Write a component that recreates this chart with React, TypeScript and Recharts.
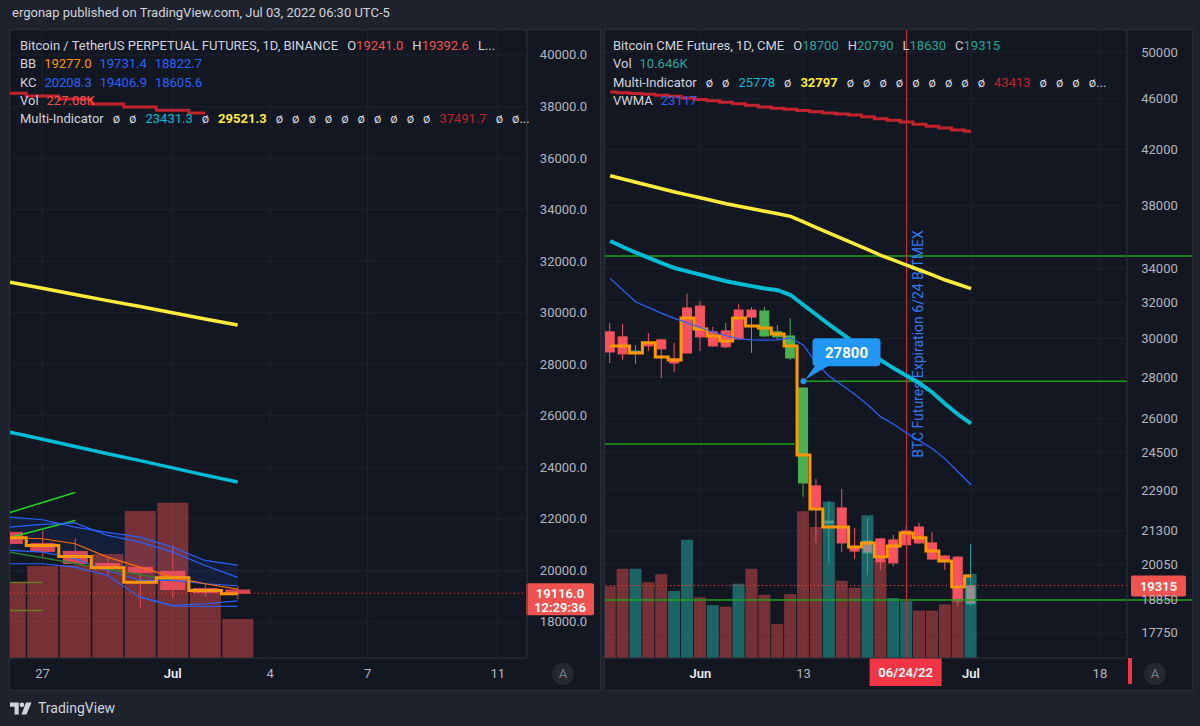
import React from 'react';
import {
  ComposedChart, Bar, Line, Area, Cell, XAxis, YAxis, CartesianGrid, ReferenceLine, ReferenceDot,
} from 'recharts';

const FONT = "Roboto, 'Liberation Sans', sans-serif";
const PAGE_BG = '#1e222d';
const CHART_BG = '#131722';
const GRID = '#1e222d';
const BORDER = '#2a2e39';
const TEXT = '#d1d4dc';
const AXIS_TEXT = '#b2b5be';
const RED = '#ef5350';
const TEAL = '#26a69a';
const CYAN = '#00bcd4';
const YELLOW = '#ffeb3b';
const BLUE = '#2962ff';
const DARK_RED = '#c2232c';
const ORANGE = '#ff9800';
const GREEN_LINE = '#1ea01e';

// ---------- left: BTCUSDT perpetual (Binance), x = days since Jun 26 ----------
const bnDays = [0, 1, 2, 3, 4, 5, 6, 7];
const bnOpen = [21475, 21050, 20740, 20270, 20120, 19960, 19300, 19241.0];
const bnHigh = [21520, 21550, 21240, 20470, 20130, 20970, 19500, 19392.6];
const bnLow = [21000, 20500, 20200, 19850, 18560, 18950, 18990, 18870];
const bnClose = [21047, 20740, 20270, 20080, 19920, 19260, 19150, 19116.0];
const bnVolK = [442, 535, 541, 605, 855, 902, 390, 227.08];
const bnRedMa = [38520, 38410, 38290, 38100, 37980, 37860, 37750, null];
const bnYellowMa = [31180, 30950, 30710, 30470, 30240, 30000, 29760, 29521.3];
const bnCyanMa = [25360, 25090, 24810, 24530, 24260, 23980, 23700, 23431.3];
const bnKcUpper = [22068, 21967, 21680, 21474, 21292, 20904, 20388, 20208.3];
const bnKcMid = [20776, 20710, 20454, 20000, 19612, 19612, 19484, 19406.9];
const bnKcLower = [null, null, null, null, 18965, 18620, 18610, 18605.6];
const bnBbUpper = [21680, 21785, 21843, 21358, 21098, 20710, 20194, 19731.4];
const bnBbBasis = [21269, 21230, 21036, 20517, 20129, 19741, 19484, 19277.0];
const bnBbLower = [20260, 20260, 20128, 19806, 18965, 18642, 18707, 18822.7];
const bnStep = [21269, 20970, 20543, 20104, 19546, 19717, 19224, 19095];
const bnGreenA = [22250, 22640, 23026, null, null, null, null, null];
const bnGreenB = [21280, 21610, 21940, null, null, null, null, null];
const bnGreenDark = [20710, 20490, 20270, 20050, 19830, 19600, null, null];
const bnOliveA = [19534, 19534, null, null, null, null, null, null];
const bnOliveB = [18448, 18448, null, null, null, null, null, null];
const bnLast = 19116.0;
const bnPriceTicks = [18000, 20000, 22000, 24000, 26000, 28000, 30000, 32000, 34000, 36000, 38000, 40000];
const bnTickDays = [1, 5, 8, 11, 15];
const bnTickLabels = ['27', 'Jul', '4', '7', '11'];

// ---------- right: CME bitcoin futures, x = trading bar index (0 = May 20) ----------
const cmeBars = [0, 1, 2, 3, 4, 5, 6, 7, 8, 9, 10, 11, 12, 13, 14, 15, 16, 17, 18, 19, 20, 21, 22, 23, 24, 25, 26, 27, 28];
const cmeOpen = [30360, 30090, 29240, 29770, 29930, 28930, 31680, 31790, 30360, 30410, 31565, 31565, 30140, 30090, 28980, 23190, 23070, 21590, 22180, 20690, 20470, 20990, 20950, 21290, 21440, 20840, 20360, 20320, 18700];
const cmeHigh = [30850, 30800, 29660, 30300, 29960, 29770, 32500, 32070, 30630, 30850, 31900, 31730, 31730, 30740, 31120, 27500, 23360, 22460, 22950, 21400, 21790, 21020, 21140, 21520, 21600, 21250, 20380, 20360, 20790];
const cmeLow = [28720, 28880, 28670, 29340, 27960, 28270, 29200, 29340, 29560, 29500, 29950, 29240, 30090, 29930, 28880, 22630, 20840, 20100, 20510, 20250, 19680, 19860, 19990, 20740, 20810, 20220, 19860, 18630, 18630];
const cmeClose = [29290, 29190, 29340, 29610, 29450, 28720, 29240, 30090, 29610, 29560, 29980, 31170, 31510, 30360, 30140, 27470, 22140, 21670, 20840, 20540, 20910, 20150, 20110, 20770, 20840, 20250, 20180, 18790, 19315];
const cmeKind = ['r', 'r', 't', 'r', 'r', 'r', 'r', 'r', 'r', 'r', 'r', 'r', 'g', 'g', 'g', 'g', 'r', 't', 'r', 'r', 't', 'r', 'r', 'r', 'r', 'r', 'r', 'r', 't'];
const cmeVolK = [9.1, 11.3, 11.3, 9.6, 10.6, 8.5, 15.0, 7.7, 6.7, 6.5, 9.4, 11.3, 8.0, 4.3, 8.1, 18.6, 16.6, 19.8, 9.8, 8.9, 18.1, 12.4, 7.6, 7.2, 6.0, 6.0, 6.8, 10.0, 10.646];
const cmeVolUp = [0, 0, 1, 0, 0, 1, 1, 0, 1, 0, 1, 0, 0, 0, 0, 0, 0, 1, 0, 0, 1, 0, 1, 1, 0, 0, 0, 0, 1];
const cmeStep = [29600, 29600, 29240, 29770, 29030, 28877, 31120, 30515, 30140, 29870, 31120, 30680, 30570, 30250, 29600, 24380, 22140, 21440, 21440, 20690, 20840, 20330, 20730, 21210, 21030, 20540, 20180, 19270, 19650];
const cmeVwma = [33400, 32700, 32020, 31700, 31380, 31100, 30850, 30600, 30350, 30150, 29980, 29930, 29920, 29930, 30040, 29650, 28700, 28050, 27600, 27150, 26650, 26090, 25750, 25350, 25000, 24650, 24200, 23650, 23117];
const cmeYellowMa = [40100, 39870, 39640, 39410, 39180, 38960, 38760, 38560, 38350, 38150, 37980, 37810, 37640, 37470, 37300, 36930, 36560, 36200, 35850, 35500, 35150, 34800, 34500, 34200, 33900, 33600, 33300, 33050, 32797];
const cmeCyanMa = [35700, 35320, 34960, 34640, 34320, 34020, 33820, 33620, 33420, 33230, 33080, 32940, 32800, 32700, 32420, 31850, 31300, 30750, 30250, 29750, 29300, 28870, 28450, 28080, 27700, 27250, 26700, 26200, 25778];
const cmeRedMa = [46560, 46500, 46440, 46380, 46300, 46200, 46060, 45950, 45840, 45720, 45600, 45470, 45330, 45230, 45140, 45050, 44950, 44850, 44770, 44690, 44540, 44400, 44270, 44130, 43950, 43800, 43660, 43510, 43413];
const cmeLast = 19315;
const cmeCallout = 27800;
const cmeCalloutBar = 15;
const cmeExpiryBar = 23;
const cmeLevels = [34760, 18825];
const cmeLowerLevel = 24860;
const cmePriceTicks = [17750, 18850, 20050, 21300, 22900, 24500, 26000, 28000, 30000, 32000, 34000, 38000, 42000, 46000, 50000];
const cmeTickBars = [7, 15, 28, 38];
const cmeTickLabels = ['Jun', '13', 'Jul', '18'];

const bnData = bnDays.map((d, i) => ({
  d,
  o: bnOpen[i], h: bnHigh[i], l: bnLow[i], c: bnClose[i],
  range: [bnLow[i], bnHigh[i]],
  kind: bnClose[i] >= bnOpen[i] ? 'g' : 'r',
  vol: bnVolK[i],
  redMa: bnRedMa[i], yellowMa: bnYellowMa[i], cyanMa: bnCyanMa[i],
  kcU: bnKcUpper[i], kcM: bnKcMid[i], kcL: bnKcLower[i],
  bbU: bnBbUpper[i], bbB: bnBbBasis[i], bbL: bnBbLower[i],
  band: [bnKcMid[i], bnKcUpper[i]],
  step: bnStep[i],
  gA: bnGreenA[i], gB: bnGreenB[i], gD: bnGreenDark[i], oA: bnOliveA[i], oB: bnOliveB[i],
}));

const cmeData = cmeBars.map((d, i) => ({
  d,
  o: cmeOpen[i], h: cmeHigh[i], l: cmeLow[i], c: cmeClose[i],
  range: [cmeLow[i], cmeHigh[i]],
  kind: cmeKind[i],
  vol: cmeVolK[i], up: cmeVolUp[i],
  step: cmeStep[i], vwma: cmeVwma[i], yellowMa: cmeYellowMa[i], cyanMa: cmeCyanMa[i], redMa: cmeRedMa[i],
}));

const CANDLE: Record<string, { body: string; wick: string; border: string }> = {
  r: { body: '#f7525f', wick: '#f7525f', border: '#f7525f' },
  g: { body: '#4caf50', wick: '#4caf50', border: '#4caf50' },
  t: { body: '#9c8b8d', wick: TEAL, border: TEAL },
};

// body drawn inside the [low, high] bar that the library placed
const makeCandle = (log: boolean, opacity = 1) => (p: any) => {
  const { x, y, width, height, payload } = p;
  if (!payload || payload.h == null || !height) return <g />;
  const f = log ? Math.log : (v: number) => v;
  const k = height / (f(payload.h) - f(payload.l));
  const py = (v: number) => y + (f(payload.h) - f(v)) * k;
  const top = py(Math.max(payload.o, payload.c));
  const bot = py(Math.min(payload.o, payload.c));
  const col = CANDLE[payload.kind];
  const cx = x + width / 2;
  return (
    <g opacity={opacity}>
      <line x1={cx} x2={cx} y1={y} y2={y + height} stroke={col.wick} strokeWidth={1} />
      <rect x={x + 0.5} y={top} width={width - 1} height={Math.max(1, bot - top)} fill={col.body} stroke={col.border} strokeWidth={1} />
    </g>
  );
};

const PriceTick = ({ x, y, payload, axisWidth, digits }: any) => (
  <text x={x + axisWidth / 2} y={y} dy={4.5} textAnchor="middle" fill={AXIS_TEXT} fontSize={13} fontFamily={FONT}>
    {payload.value.toFixed(digits)}
  </text>
);

const TimeTick = ({ x, y, payload, ticks, labels }: any) => {
  const label = labels[ticks.indexOf(payload.value)];
  const month = label === 'Jul' || label === 'Jun';
  return (
    <text x={x} y={y + 20} textAnchor="middle" fill={month ? '#e9ebf0' : AXIS_TEXT} fontSize={13} fontWeight={month ? 600 : 400} fontFamily={FONT}>
      {label}
    </text>
  );
};

const LastPriceBox = ({ viewBox, text, sub, w, h, dx }: any) => {
  const x = viewBox.x + viewBox.width + dx;
  const y = viewBox.y - 10;
  return (
    <g>
      <rect x={x} y={y} width={w} height={h} rx={2} fill={RED} />
      <text x={x + w / 2} y={y + 15} textAnchor="middle" fill="#fff" fontSize={13} fontWeight={600} fontFamily={FONT}>{text}</text>
      {sub && <text x={x + w / 2} y={y + 29} textAnchor="middle" fill="#fff" fontSize={13} fontWeight={600} fontFamily={FONT}>{sub}</text>}
    </g>
  );
};

// horizontal level that also runs on through the price scale
const LevelTail = ({ viewBox }: any) => {
  const x = viewBox.x + viewBox.width;
  return <line x1={x} x2={x + 65} y1={viewBox.y} y2={viewBox.y} stroke={GREEN_LINE} strokeWidth={1.5} />;
};

const ExpiryLabel = ({ viewBox }: any) => {
  const x = viewBox.x;
  const midY = viewBox.y + viewBox.height / 2;
  const axisY = viewBox.y + viewBox.height;
  return (
    <g>
      <text transform={`translate(${x + 16}, ${midY}) rotate(-90)`} textAnchor="middle" fill="#3179f5" fontSize={14} fontFamily={FONT}>
        BTC Futures Expiration 6/24 BITMEX
      </text>
      <rect x={x - 37} y={axisY} width={72} height={28} fill="#f23645" />
      <text x={x - 1} y={axisY + 19} textAnchor="middle" fill="#fff" fontSize={13} fontWeight={600} fontFamily={FONT}>06/24/22</text>
    </g>
  );
};

const Callout = ({ cx, cy }: any) => (
  <g>
    <path d={`M${cx + 12} ${cy - 16} L${cx + 26} ${cy - 16} L${cx + 2} ${cy - 2} Z`} fill="#2196f3" />
    <rect x={cx + 9} y={cy - 43} width={68} height={28} rx={4} fill="#2196f3" />
    <text x={cx + 43} y={cy - 23} textAnchor="middle" fill="#fff" fontSize={15} fontWeight={700} fontFamily={FONT}>27800</text>
    <circle cx={cx} cy={cy} r={3} fill="#2196f3" />
  </g>
);

const AButton = () => (
  <div style={{ position: 'absolute', right: 26, bottom: 5, width: 22, height: 22, borderRadius: 11, background: '#242833', color: '#787b86', fontSize: 13, lineHeight: '22px', textAlign: 'center' }}>A</div>
);

type Tok = { p?: string; v?: string; c?: string; b?: boolean; gap?: number };
const NUL: Tok = { p: 'ø', gap: 9 };

const LegendRows = ({ rows, left }: { rows: Tok[][]; left: number }) => (
  <>
    {rows.map((row, r) => (
      <div key={r} style={{ position: 'absolute', left, top: 7 + r * 18.3, fontSize: 13, lineHeight: '18px', color: TEXT, whiteSpace: 'nowrap' }}>
        {row.map((t, i) => (
          <span key={i} style={{ marginLeft: i === 0 ? 0 : t.gap ?? 8 }}>
            {t.p}
            {t.v && <span style={{ color: t.c, fontWeight: t.b ? 700 : 400 }}>{t.v}</span>}
          </span>
        ))}
      </div>
    ))}
  </>
);

const times = (n: number) => Array.from({ length: n }, () => NUL);

const bnLegend: Tok[][] = [
  [{ p: 'Bitcoin / TetherUS PERPETUAL FUTURES, 1D, BINANCE' }, { p: 'O', v: '19241.0', c: RED, gap: 9 }, { p: 'H', v: '19392.6', c: RED, gap: 9 }, { p: 'L...', gap: 9 }],
  [{ p: 'BB' }, { v: '19277.0', c: ORANGE }, { v: '19731.4', c: BLUE }, { v: '18822.7', c: BLUE }],
  [{ p: 'KC' }, { v: '20208.3', c: BLUE }, { v: '19406.9', c: BLUE }, { v: '18605.6', c: BLUE }],
  [{ p: 'Vol' }, { v: '227.08K', c: RED }],
  [{ p: 'Multi-Indicator' }, NUL, NUL, { v: '23431.3', c: CYAN, gap: 9 }, NUL, { v: '29521.3', c: YELLOW, b: true, gap: 9 }, ...times(10), { v: '37491.7', c: DARK_RED, gap: 9 }, NUL, { p: 'ø...', gap: 9 }],
];

const cmeLegend: Tok[][] = [
  [{ p: 'Bitcoin CME Futures, 1D, CME' }, { p: 'O', v: '18700', c: TEAL, gap: 9 }, { p: 'H', v: '20790', c: TEAL, gap: 9 }, { p: 'L', v: '18630', c: TEAL, gap: 9 }, { p: 'C', v: '19315', c: TEAL, gap: 9 }],
  [{ p: 'Vol' }, { v: '10.646K', c: TEAL }],
  [{ p: 'Multi-Indicator' }, NUL, NUL, { v: '25778', c: CYAN, gap: 9 }, NUL, { v: '32797', c: YELLOW, b: true, gap: 9 }, ...times(9), { v: '43413', c: DARK_RED, gap: 9 }, NUL, NUL, NUL, { p: 'ø...', gap: 9 }],
  [{ p: 'VWMA' }, { v: '23117', c: BLUE }],
];

const line = (key: string, stroke: string, width: number, type: any = 'linear') => (
  <Line key={key} xAxisId="p" yAxisId="price" dataKey={key} type={type} stroke={stroke} strokeWidth={width} dot={false} isAnimationActive={false} />
);

const BinanceChart = () => (
  <ComposedChart width={590} height={660} data={bnData} margin={{ top: 0, right: 0, bottom: 0, left: 0 }}>
    <CartesianGrid xAxisId="p" yAxisId="price" stroke={GRID} />
    <XAxis xAxisId="p" type="number" dataKey="d" domain={[0, 15.9]} ticks={bnTickDays} interval={0} allowDataOverflow
      height={32} tickLine={false} tickSize={0} tickMargin={0} axisLine={{ stroke: BORDER }}
      tick={(p: any) => <TimeTick {...p} ticks={bnTickDays} labels={bnTickLabels} />} />
    <XAxis xAxisId="v" type="number" dataKey="d" domain={[0, 15.9]} allowDataOverflow hide />
    <YAxis yAxisId="price" orientation="right" width={73} domain={[16603, 40970]} ticks={bnPriceTicks} interval={0} allowDataOverflow
      tickLine={false} tickSize={0} tickMargin={0} axisLine={{ stroke: BORDER }}
      tick={(p: any) => <PriceTick {...p} axisWidth={73} digits={1} />} />
    <YAxis yAxisId="vol" domain={[0, 3650]} hide allowDataOverflow />
    <Bar xAxisId="v" yAxisId="vol" dataKey="vol" barSize={31} fill={RED} fillOpacity={0.45} isAnimationActive={false} />
    <Area xAxisId="p" yAxisId="price" dataKey="band" type="linear" stroke="none" fill={BLUE} fillOpacity={0.1} isAnimationActive={false} />
    <Bar xAxisId="p" yAxisId="price" dataKey="range" barSize={25} shape={makeCandle(false, 0.85)} isAnimationActive={false} />
    {line('oA', '#6d7a23', 1.5)}
    {line('oB', '#6d7a23', 1.5)}
    {line('gD', '#2e7d32', 1.5)}
    {line('gA', '#22d622', 1.5)}
    {line('gB', '#22d622', 1.5)}
    {line('kcU', BLUE, 1.2)}
    {line('kcM', BLUE, 1.2)}
    {line('kcL', BLUE, 1.2)}
    {line('bbU', BLUE, 1.2)}
    {line('bbL', BLUE, 1.2)}
    {line('bbB', '#ff6d00', 1.2)}
    {line('step', ORANGE, 3, 'step')}
    {line('redMa', DARK_RED, 3, 'step')}
    {line('yellowMa', YELLOW, 3.5)}
    {line('cyanMa', CYAN, 3.5)}
    <ReferenceLine xAxisId="p" yAxisId="price" y={bnLast} stroke={RED} strokeDasharray="1 3"
      label={(p: any) => <LastPriceBox {...p} text="19116.0" sub="12:29:36" w={68} h={32} dx={-1} />} />
  </ComposedChart>
);

const CmeChart = () => (
  <ComposedChart width={587} height={660} data={cmeData} margin={{ top: 0, right: 0, bottom: 0, left: 0 }}>
    <CartesianGrid xAxisId="p" yAxisId="price" stroke={GRID} />
    <XAxis xAxisId="p" type="number" dataKey="d" domain={[-0.4, 40.1]} ticks={cmeTickBars} interval={0} allowDataOverflow
      height={32} tickLine={false} tickSize={0} tickMargin={0} axisLine={{ stroke: BORDER }}
      tick={(p: any) => <TimeTick {...p} ticks={cmeTickBars} labels={cmeTickLabels} />} />
    <XAxis xAxisId="v" type="number" dataKey="d" domain={[-0.4, 40.1]} allowDataOverflow hide />
    <YAxis yAxisId="price" orientation="right" width={65} scale="log" domain={[16975, 52000]} ticks={cmePriceTicks} interval={0} allowDataOverflow
      tickLine={false} tickSize={0} tickMargin={0} axisLine={{ stroke: BORDER }}
      tick={(p: any) => <PriceTick {...p} axisWidth={65} digits={0} />} />
    <YAxis yAxisId="vol" domain={[0, 79.6]} hide allowDataOverflow />
    <Bar xAxisId="v" yAxisId="vol" dataKey="vol" barSize={12} isAnimationActive={false}>
      {cmeData.map((e, i) => (
        <Cell key={i} fill={e.up ? TEAL : RED} fillOpacity={e.up ? 0.55 : 0.45} />
      ))}
    </Bar>
    <ReferenceLine xAxisId="p" yAxisId="price" y={cmeLevels[0]} stroke={GREEN_LINE} strokeWidth={1.5}
      label={(p: any) => <LevelTail {...p} />} />
    <ReferenceLine xAxisId="p" yAxisId="price" y={cmeLevels[1]} stroke={GREEN_LINE} strokeWidth={1.5}
      label={(p: any) => <LevelTail {...p} />} />
    <ReferenceLine xAxisId="p" yAxisId="price" segment={[{ x: -0.4, y: cmeLowerLevel }, { x: 14.3, y: cmeLowerLevel }]} stroke={GREEN_LINE} strokeWidth={1.5} />
    <ReferenceLine xAxisId="p" yAxisId="price" segment={[{ x: cmeCalloutBar, y: cmeCallout }, { x: 40.1, y: cmeCallout }]} stroke={GREEN_LINE} strokeWidth={1.5} />
    <ReferenceLine xAxisId="p" yAxisId="price" x={cmeExpiryBar} stroke="#c2303a" strokeWidth={1.2}
      label={(p: any) => <ExpiryLabel {...p} />} />
    <Bar xAxisId="p" yAxisId="price" dataKey="range" barSize={10} shape={makeCandle(true)} isAnimationActive={false} />
    {line('step', ORANGE, 3, 'step')}
    {line('vwma', BLUE, 1.2)}
    {line('cyanMa', CYAN, 4)}
    {line('yellowMa', YELLOW, 3.5)}
    {line('redMa', DARK_RED, 3, 'step')}
    <ReferenceDot xAxisId="p" yAxisId="price" x={cmeCalloutBar} y={cmeCallout} r={3} shape={(p: any) => <Callout {...p} />} />
    <ReferenceLine xAxisId="p" yAxisId="price" y={cmeLast} stroke={RED} strokeDasharray="1 3"
      label={(p: any) => <LastPriceBox {...p} text="19315" w={55} h={21} dx={4} />} />
  </ComposedChart>
);

const Logo = () => (
  <svg width={22} height={13} viewBox="0 0 24 14">
    <path d="M0 0.5h9.5v13h-4.5V5H0z" fill={TEXT} />
    <circle cx={13} cy={3} r={2.6} fill={TEXT} />
    <path d="M17.5 0.5h6l-5.5 13h-5.5z" fill={TEXT} />
  </svg>
);

export default function App() {
  return (
    <div style={{ position: 'absolute', left: 0, top: 0, width: 1200, height: 726, background: PAGE_BG, fontFamily: FONT, overflow: 'hidden' }}>
      <div style={{ position: 'absolute', left: 12, top: 5, fontSize: 13, color: TEXT, whiteSpace: 'nowrap' }}>
        ergonap published on TradingView.com, Jul 03, 2022 06:30 UTC-5
      </div>

      <div style={{ position: 'absolute', left: 10, top: 30, width: 590, height: 660, background: CHART_BG, outline: `1px solid ${BORDER}` }}>
        <BinanceChart />
        <LegendRows rows={bnLegend} left={10} />
        <AButton />
      </div>

      <div style={{ position: 'absolute', left: 605, top: 30, width: 587, height: 660, background: CHART_BG, outline: `1px solid ${BORDER}` }}>
        <CmeChart />
        <LegendRows rows={cmeLegend} left={8} />
        <div style={{ position: 'absolute', left: 523, top: 628, width: 4, height: 26, background: '#f23645' }} />
        <AButton />
      </div>

      <div style={{ position: 'absolute', left: 10, top: 700, display: 'flex', alignItems: 'center', gap: 6, color: TEXT, fontSize: 14 }}>
        <Logo />
        <span>TradingView</span>
      </div>
    </div>
  );
}
